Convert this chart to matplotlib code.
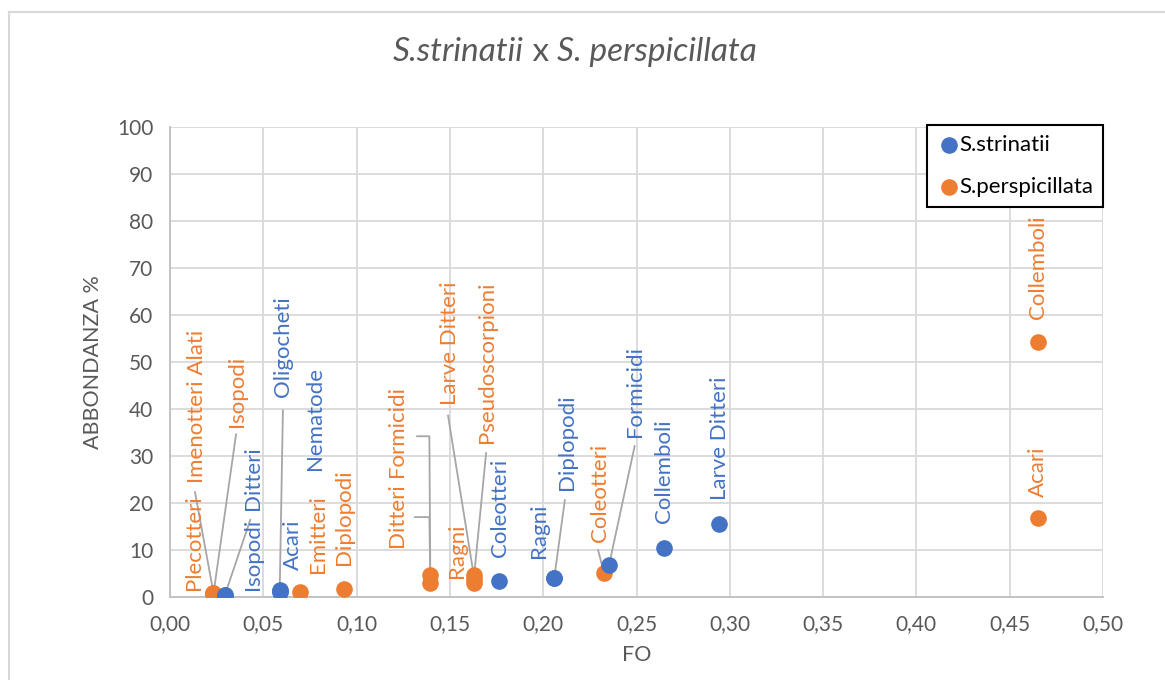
import numpy as np
import matplotlib.pyplot as plt
from matplotlib.lines import Line2D

#------------------------------------------------------------------------------
#   Data
#------------------------------------------------------------------------------
# S.strinatii (blue)
str_names = ['Isopodi', 'Ditteri', 'Acari', 'Oligocheti', 'Nematode', 'Coleotteri',
             'Ragni', 'Diplopodi', 'Formicidi', 'Collemboli', 'Larve Ditteri']
str_fo = [0.0294, 0.0294, 0.0588, 0.0588, 0.0588, 0.1765,
          0.2059, 0.2059, 0.2353, 0.2647, 0.2941]
str_ab = [0.5, 0.4, 1.0, 1.4, 1.2, 3.4, 4.0, 4.0, 6.8, 10.4, 15.5]

# S.perspicillata (orange)
per_names = ['Plecotteri', 'Imenotteri Alati', 'Isopodi', 'Emitteri', 'Diplopodi',
             'Ditteri', 'Formicidi', 'Ragni', 'Larve Ditteri', 'Pseudoscorpioni',
             'Coleotteri', 'Acari', 'Collemboli']
per_fo = [0.0233, 0.0233, 0.0233, 0.0698, 0.0930, 0.1395, 0.1395,
          0.1628, 0.1628, 0.1628, 0.2326, 0.4651, 0.4651]
per_ab = [0.8, 0.9, 0.7, 1.1, 1.7, 3.0, 4.6, 3.0, 4.6, 3.8, 5.1, 16.8, 54.3]

#------------------------------------------------------------------------------
#   Label layout (position of the bottom of each rotated label, and leader start)
#------------------------------------------------------------------------------
str_lab_pos = [(0.0445, 1.5), (0.0445, 18.5), (0.066, 5.7), (0.0606, 42.5), (0.0777, 27.0),
               (0.1768, 8.5), (0.198, 8.3), (0.2127, 22.7), (0.249, 34.0),
               (0.2647, 15.7), (0.2947, 20.6)]
str_leaders = {1: [(0.043, 16.4)], 3: [(0.0605, 39.7)],
               7: [(0.2116, 20.6)], 8: [(0.249, 32.1)]}

per_lab_pos = [(0.0129, 1.5), (0.0145, 24.2), (0.0359, 36.1), (0.0793, 5.1), (0.0932, 6.8),
               (0.1217, 10.6), (0.1217, 25.5), (0.1538, 4.0), (0.150, 40.8), (0.170, 32.7),
               (0.2304, 11.7), (0.4651, 21.2), (0.4651, 59.2)]
per_leaders = {1: [(0.0134, 22.3)], 2: [(0.0354, 34.6)],
               5: [(0.1313, 17.0), (0.1390, 17.0)], 6: [(0.1324, 34.2), (0.1390, 34.2)],
               8: [(0.1490, 38.6)], 9: [(0.1694, 30.6)], 10: [(0.2294, 10.0)]}

blue = '#4472C4'
orange = '#ED7D31'
grey_txt = '#595959'

plt.rcParams['font.family'] = ['Lato', 'DejaVu Sans']

fig = plt.figure(figsize=(11.65, 6.8), dpi=100)
ax = fig.add_axes([170 / 1165, 1 - 597 / 680, (1103 - 170) / 1165, (597 - 127) / 680])

#   chart area border
fig.add_artist(Line2D([9 / 1165, 9 / 1165], [0, 1 - 12 / 680], transform=fig.transFigure,
                      color='#D9D9D9', lw=1.5))
fig.add_artist(Line2D([9 / 1165, 1], [1 - 12 / 680, 1 - 12 / 680], transform=fig.transFigure,
                      color='#D9D9D9', lw=1.5))

ax.set_xlim(0, 0.5)
ax.set_ylim(0, 100)
xt = np.arange(0, 0.51, 0.05)
ax.set_xticks(xt)
ax.set_xticklabels([('%.2f' % v).replace('.', ',') for v in xt])
ax.set_yticks(np.arange(0, 101, 10))
ax.grid(True, color='#D9D9D9', lw=1.3)
ax.set_axisbelow(True)
for s in ['top', 'right']:
    ax.spines[s].set_visible(False)
for s in ['left', 'bottom']:
    ax.spines[s].set_color('#BFBFBF')
    ax.spines[s].set_linewidth(1.3)
ax.tick_params(length=0, labelsize=15, colors=grey_txt, pad=12)
ax.set_xlabel('FO', fontsize=15.5, color=grey_txt, labelpad=8)
ax.set_ylabel('ABBONDANZA %', fontsize=15.5, color=grey_txt, labelpad=10)

#   leader lines
for i, pts in str_leaders.items():
    xs = [p[0] for p in pts] + [str_fo[i]]
    ys = [p[1] for p in pts] + [str_ab[i]]
    ax.plot(xs, ys, color='#A6A6A6', lw=1.3, zorder=2)
for i, pts in per_leaders.items():
    xs = [p[0] for p in pts] + [per_fo[i]]
    ys = [p[1] for p in pts] + [per_ab[i]]
    ax.plot(xs, ys, color='#A6A6A6', lw=1.3, zorder=2)

#   points
ax.scatter(per_fo, per_ab, s=120, color=orange, zorder=3, label='S.perspicillata')
ax.scatter(str_fo, str_ab, s=120, color=blue, zorder=3, label='S.strinatii')

#   data labels
for name, (lx, ly) in zip(str_names, str_lab_pos):
    ax.text(lx, ly, name, rotation=90, ha='center', va='bottom', fontsize=16,
            color=blue, zorder=4)
for name, (lx, ly) in zip(per_names, per_lab_pos):
    ax.text(lx, ly, name, rotation=90, ha='center', va='bottom', fontsize=16,
            color=orange, zorder=4)

#   legend
handles, labels = ax.get_legend_handles_labels()
leg = ax.legend(handles[::-1], labels[::-1], loc='upper right', bbox_to_anchor=(1.0, 1.005),
                fontsize=16, frameon=True, fancybox=False, framealpha=1,
                handletextpad=-0.1, borderpad=0.45, labelspacing=1.0, handlelength=1.1,
                borderaxespad=0)
leg.get_frame().set_edgecolor('black')
leg.get_frame().set_linewidth(1.5)
for t in leg.get_texts():
    t.set_color('black')

#   title with mixed italic / regular parts
fig.canvas.draw()
renderer = fig.canvas.get_renderer()
parts = [('S.strinatii', 'italic'), (' x ', 'normal'), ('S. perspicillata', 'italic')]
pieces = []
for txt, st in parts:
    pieces.append(fig.text(0, 1 - 52 / 680, txt, fontsize=24, style=st, color=grey_txt,
                           va='center', ha='left'))
widths = [p.get_window_extent(renderer).width for p in pieces]
x = 575 - sum(widths) / 2
for p, w in zip(pieces, widths):
    p.set_x(x / 1165)
    x += w

fig.savefig('out.png', dpi=100)
